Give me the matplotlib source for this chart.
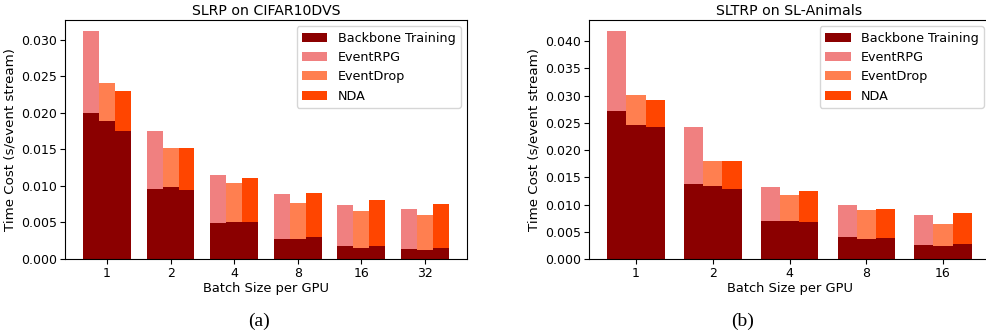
import matplotlib

matplotlib.use("Agg")

import matplotlib.pyplot as plt
import numpy as np
from matplotlib.ticker import MultipleLocator

# batch sizes per panel
cifar_batches = ["1", "2", "4", "8", "16", "32"]
animals_batches = ["1", "2", "4", "8", "16"]

methods = ["EventRPG", "EventDrop", "NDA"]

# SLRP on CIFAR10DVS: backbone time and total time (s/event stream)
cifar_backbone = {
    "EventRPG": [0.0200, 0.0096, 0.0049, 0.0027, 0.0018, 0.0014],
    "EventDrop": [0.0189, 0.0098, 0.0051, 0.0027, 0.0015, 0.0012],
    "NDA": [0.0175, 0.0095, 0.0051, 0.0030, 0.0018, 0.0015],
}
cifar_total = {
    "EventRPG": [0.0311, 0.0175, 0.0115, 0.0089, 0.0074, 0.0068],
    "EventDrop": [0.0240, 0.0152, 0.0104, 0.0077, 0.0066, 0.0060],
    "NDA": [0.0229, 0.0152, 0.0111, 0.0090, 0.0081, 0.0075],
}

# SLTRP on SL-Animals
animals_backbone = {
    "EventRPG": [0.0272, 0.0138, 0.0070, 0.0040, 0.0026],
    "EventDrop": [0.0246, 0.0134, 0.0070, 0.0037, 0.0024],
    "NDA": [0.0242, 0.0128, 0.0068, 0.0039, 0.0028],
}
animals_total = {
    "EventRPG": [0.0418, 0.0242, 0.0132, 0.0099, 0.0081],
    "EventDrop": [0.0301, 0.0180, 0.0117, 0.0090, 0.0064],
    "NDA": [0.0292, 0.0180, 0.0125, 0.0092, 0.0084],
}

colors = {
    "Backbone Training": "darkred",
    "EventRPG": "lightcoral",
    "EventDrop": "coral",
    "NDA": "orangered",
}


def draw_panel(ax, batches, backbone, total, title):
    x = np.arange(len(batches))
    width = 0.25
    for i, name in enumerate(methods):
        pos = x + (i - 1) * width
        base = np.array(backbone[name])
        extra = np.array(total[name]) - base
        ax.bar(pos, base, width, color=colors["Backbone Training"],
               label="Backbone Training" if i == 0 else None)
        ax.bar(pos, extra, width, bottom=base, color=colors[name], label=name)
    ax.set_xticks(x)
    ax.set_xticklabels(batches)
    ax.yaxis.set_major_locator(MultipleLocator(0.005))
    ax.set_title(title, fontsize=10.2, pad=3.5)
    ax.set_xlabel("Batch Size per GPU", fontsize=9.4, labelpad=1)
    ax.set_ylabel("Time Cost (s/event stream)", fontsize=9.6, labelpad=3)
    ax.tick_params(labelsize=9, pad=2.5)
    handles, labels = ax.get_legend_handles_labels()
    order = ["Backbone Training", "EventRPG", "EventDrop", "NDA"]
    hmap = dict(zip(labels, handles))
    ax.legend([hmap[k] for k in order], order, loc="upper right", fontsize=9.2)


fig = plt.figure(figsize=(9.86, 3.33), dpi=100)
ax1 = fig.add_axes([0.0659, 0.222, 0.4077, 0.7177])
ax2 = fig.add_axes([0.5974, 0.222, 0.4067, 0.7177])

draw_panel(ax1, cifar_batches, cifar_backbone, cifar_total, "SLRP on CIFAR10DVS")
draw_panel(ax2, animals_batches, animals_backbone, animals_total, "SLTRP on SL-Animals")

fig.text(0.263, 0.02, "(a)", fontsize=14, family="Liberation Serif", ha="center")
fig.text(0.753, 0.02, "(b)", fontsize=14, family="Liberation Serif", ha="center")

fig.savefig("out.png")
